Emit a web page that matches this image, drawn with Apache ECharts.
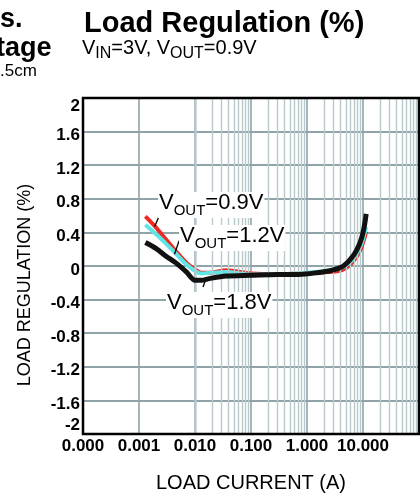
<!DOCTYPE html>
<html>
<head>
<meta charset="utf-8">
<script src="https://cdn.jsdelivr.net/npm/echarts@6/dist/echarts.min.js"></script>
<style>
    html, body { margin: 0; padding: 0; background: #fff; }
    #chart { width: 420px; height: 497px; }
</style>
</head>
<body>
<div id="chart"></div>
<script>
// load current (A), log axis
const currentA = [0.0013, 0.002, 0.003, 0.0045, 0.007, 0.01, 0.013, 0.018, 0.036, 0.1, 0.3, 0.7, 1.5, 2.8, 4.2, 5.6, 7, 8.4, 9.6, 10.6, 11.4];
// load regulation (%) per output voltage
const reg09 = [0.59, 0.46, 0.32, 0.18, 0.04, -0.04, -0.08, -0.08, -0.05, -0.09, -0.10, -0.09, -0.08, -0.07, -0.05, 0.00, 0.07, 0.15, 0.24, 0.33, 0.41];
const reg12 = [0.49, 0.38, 0.27, 0.15, 0.02, -0.06, -0.09, -0.08, -0.07, -0.10, -0.10, -0.09, -0.07, -0.05, -0.02, 0.03, 0.10, 0.19, 0.28, 0.38, 0.46];
const reg18 = [0.28, 0.21, 0.12, 0.04, -0.07, -0.17, -0.17, -0.15, -0.12, -0.11, -0.10, -0.10, -0.08, -0.05, -0.01, 0.06, 0.14, 0.24, 0.35, 0.48, 0.62];

const xMin = 0.0001;
const xMax = 100;
const yMin = -2;
const yMax = 2;
const yStep = 0.4;

// minor log grid lines 2..9 of each decade
const minorX = [];
for (let d = xMin; d < xMax; d *= 10) {
    for (let k = 2; k <= 9; k++) {
        minorX.push(+(d * k).toPrecision(3));
    }
}

const FONT = '"Liberation Sans", Arial, sans-serif';
const GRID_MAJOR = '#8fa3a8';
const GRID_MINOR = '#b9c9cc';

function zip(xs, ys) {
    return xs.map((x, i) => [x, ys[i]]);
}

// leader line from a label down to its curve (data coords)
function leader(from, to) {
    return {
        silent: true,
        symbol: ['none', 'none'],
        label: { show: false },
        lineStyle: { color: '#000', width: 1.3, type: 'solid' },
        data: [[{ coord: from }, { coord: to }]]
    };
}

const voutRich = {
    m: { fontFamily: FONT, fontSize: 22, lineHeight: 22, verticalAlign: 'top', color: '#000' },
    s: { fontFamily: FONT, fontSize: 15, lineHeight: 26, verticalAlign: 'bottom', color: '#000' }
};

function voutLabel(x, y, v) {
    return {
        type: 'text',
        x: x,
        y: y,
        z: 50,
        style: {
            text: '{m|V}{s|OUT}{m|=' + v + '}',
            rich: voutRich,
            backgroundColor: '#fff',
            padding: [0, 1, 0, 1]
        }
    };
}

const yLabelFont = { fontFamily: FONT, fontSize: 17, fontWeight: 'bold', color: '#000' };

const chart = echarts.init(document.getElementById('chart'), null, { renderer: 'canvas' });

const option = {
    backgroundColor: '#fff',
    animation: false,
    grid: {
        left: 83,
        right: 1,
        top: 98,
        bottom: 63,
        containLabel: false,
        outerBoundsMode: 'none',
        show: true,
        z: 10,
        borderColor: '#000',
        borderWidth: 2.5,
        backgroundColor: 'transparent'
    },
    xAxis: {
        type: 'log',
        logBase: 10,
        min: xMin,
        max: xMax,
        z: 0,
        name: 'LOAD CURRENT (A)',
        nameLocation: 'middle',
        nameGap: 39,
        nameTextStyle: { fontFamily: FONT, fontSize: 20, color: '#000' },
        axisLine: { show: false },
        axisTick: { show: false },
        axisLabel: {
            margin: 4,
            fontFamily: FONT,
            fontSize: 17,
            fontWeight: 'bold',
            color: '#000',
            showMaxLabel: false,
            formatter: v => Number(v).toFixed(3)
        },
        splitLine: { show: true, lineStyle: { color: GRID_MAJOR, width: 1.6 } }
    },
    yAxis: {
        type: 'value',
        min: yMin,
        max: yMax,
        interval: yStep,
        z: 2,
        axisLine: { show: false },
        axisTick: { show: false },
        axisLabel: {
            margin: 3,
            verticalAlignMaxLabel: 'top',
            verticalAlignMinLabel: 'bottom',
            formatter: v => {
                const t = String(Math.round(v * 10) / 10);
                return Math.abs(v) === yMax ? '{e|' + t + '}' : '{n|' + t + '}';
            },
            rich: {
                e: yLabelFont,
                n: Object.assign({ padding: [8, 0, 0, 0] }, yLabelFont)
            }
        },
        splitLine: { show: true, lineStyle: { color: GRID_MAJOR, width: 2 } }
    },
    graphic: [
        // cut-off text of the neighbouring chart
        { type: 'text', x: 0, y: 6, style: { text: 's.', font: 'bold 27px ' + FONT, fill: '#000' } },
        { type: 'text', x: -4, y: 35, style: { text: 'tage', font: 'bold 27px ' + FONT, fill: '#000' } },
        { type: 'text', x: 0, y: 63, style: { text: '.5cm', font: '17px ' + FONT, fill: '#000' } },
        // title
        { type: 'text', x: 84, y: 9, style: { text: 'Load Regulation (%)', font: 'bold 29px ' + FONT, fill: '#000' } },
        {
            type: 'text',
            x: 82,
            y: 38,
            style: {
                text: '{m|V}{s|IN}{m|=3V, V}{s|OUT}{m|=0.9V}',
                rich: {
                    m: { fontFamily: FONT, fontSize: 20, lineHeight: 20, verticalAlign: 'top', color: '#000' },
                    s: { fontFamily: FONT, fontSize: 16, lineHeight: 24, verticalAlign: 'bottom', color: '#000' }
                }
            }
        },
        // y axis title
        {
            type: 'text',
            x: 25,
            y: 285,
            rotation: Math.PI / 2,
            style: {
                text: 'LOAD REGULATION (%)',
                font: '18px ' + FONT,
                fill: '#000',
                align: 'center',
                verticalAlign: 'middle'
            }
        },
        voutLabel(158, 192, '0.9V'),
        voutLabel(179, 225, '1.2V'),
        voutLabel(166, 292, '1.8V')
    ],
    series: [
        {
            // minor grid lines
            type: 'line',
            z: 1,
            silent: true,
            data: [],
            markLine: {
                silent: true,
                symbol: ['none', 'none'],
                label: { show: false },
                lineStyle: { color: GRID_MINOR, width: 1.4, type: 'solid' },
                data: minorX.map(v => ({ xAxis: v }))
            }
        },
        {
            name: 'VOUT=0.9V',
            type: 'line',
            z: 3,
            smooth: 0.3,
            showSymbol: false,
            lineStyle: { color: '#ee2a22', width: 4 },
            data: zip(currentA, reg09),
            markLine: leader([0.00246, 0.64], [0.0019, 0.47])
        },
        {
            name: 'VOUT=1.2V',
            type: 'line',
            z: 4,
            smooth: 0.3,
            showSymbol: false,
            lineStyle: { color: '#5ce6e6', width: 4 },
            data: zip(currentA, reg12),
            markLine: leader([0.0052, 0.30], [0.0043, 0.14])
        },
        {
            name: 'VOUT=1.8V',
            type: 'line',
            z: 5,
            smooth: 0.3,
            showSymbol: false,
            lineStyle: { color: '#111', width: 5 },
            data: zip(currentA, reg18),
            markLine: leader([0.0139, -0.25], [0.0156, -0.16])
        }
    ]
};

chart.setOption(option);
</script>
</body>
</html>
